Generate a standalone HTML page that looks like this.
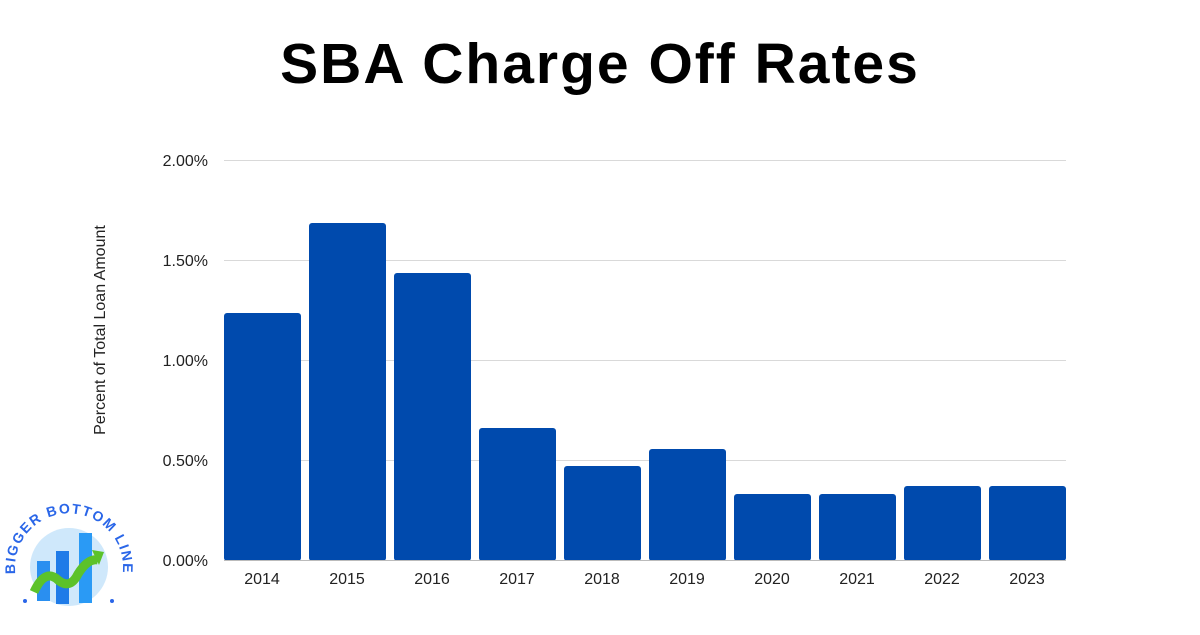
<!DOCTYPE html>
<html><head><meta charset="utf-8"><style>
body{margin:0;width:1200px;height:630px;background:#fff;overflow:hidden;font-family:"Liberation Sans",sans-serif}
</style></head><body>
<svg width="1200" height="630" viewBox="0 0 1200 630" xmlns="http://www.w3.org/2000/svg">
<text x="600" y="83" text-anchor="middle" font-family="Liberation Sans" font-weight="bold" font-size="57" letter-spacing="2" fill="#000">SBA Charge Off Rates</text>
<g stroke="#d9d9d9" stroke-width="1">
<line x1="224" y1="160.5" x2="1066" y2="160.5"/>
<line x1="224" y1="260.5" x2="1066" y2="260.5"/>
<line x1="224" y1="360.5" x2="1066" y2="360.5"/>
<line x1="224" y1="460.5" x2="1066" y2="460.5"/>
</g>
<g font-size="16" fill="#222" text-anchor="end">
<text x="208" y="166">2.00%</text>
<text x="208" y="266">1.50%</text>
<text x="208" y="366">1.00%</text>
<text x="208" y="466">0.50%</text>
<text x="208" y="566">0.00%</text>
</g>
<text transform="translate(105,330) rotate(-90)" text-anchor="middle" font-size="16" fill="#222">Percent of Total Loan Amount</text>
<g fill="#004aad">
<rect x="224" y="313" width="77" height="248" rx="3"/>
<rect x="309" y="223" width="77" height="338" rx="3"/>
<rect x="394" y="273" width="77" height="288" rx="3"/>
<rect x="479" y="428" width="77" height="133" rx="3"/>
<rect x="564" y="466" width="77" height="95" rx="3"/>
<rect x="649" y="449" width="77" height="112" rx="3"/>
<rect x="734" y="494" width="77" height="67" rx="3"/>
<rect x="819" y="494" width="77" height="67" rx="3"/>
<rect x="904" y="486" width="77" height="75" rx="3"/>
<rect x="989" y="486" width="77" height="75" rx="3"/>
</g>
<line x1="224" y1="560.5" x2="1066" y2="560.5" stroke="#bbb"/>
<g font-size="16" fill="#222" text-anchor="middle">
<text x="262" y="584">2014</text><text x="347" y="584">2015</text><text x="432" y="584">2016</text>
<text x="517" y="584">2017</text><text x="602" y="584">2018</text><text x="687" y="584">2019</text>
<text x="772" y="584">2020</text><text x="857" y="584">2021</text><text x="942" y="584">2022</text>
<text x="1027" y="584">2023</text>
</g>
<!-- logo -->
<circle cx="69" cy="567" r="39" fill="#cfe8fb"/>
<rect x="37" y="561" width="13" height="40" fill="#2a8ff0"/>
<rect x="56" y="551" width="13" height="53" fill="#1f7be8"/>
<rect x="79" y="533" width="13" height="70" fill="#2a9af5"/>
<path d="M34 592 Q45 568 58 580 Q70 590 78 574 Q88 558 98 560" stroke="#5cc22a" stroke-width="9" fill="none"/>
<polygon points="92,550 104,552 99,565" fill="#5cc22a"/>
<defs><path id="arc" d="M22 594 A54 54 0 1 1 116 594"/></defs>
<text font-family="Liberation Sans" font-weight="bold" font-size="14" fill="#2a66e8" letter-spacing="1.5"><textPath href="#arc" startOffset="50%" text-anchor="middle">BIGGER BOTTOM LINE</textPath></text>
<circle cx="25" cy="601" r="2" fill="#2a66e8"/><circle cx="112" cy="601" r="2" fill="#2a66e8"/>
</svg>
</body></html>
